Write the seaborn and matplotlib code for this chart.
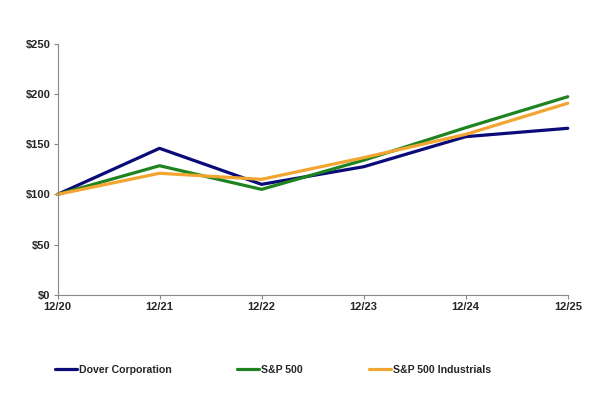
import matplotlib
matplotlib.use("Agg")
import matplotlib.pyplot as plt
import seaborn as sns
import pandas as pd
from matplotlib import font_manager
from matplotlib.lines import Line2D

years = ["12/20", "12/21", "12/22", "12/23", "12/24", "12/25"]
dover = [100, 145.8, 110, 127.5, 157.4, 165.7]
sp500 = [100, 128.5, 105, 134, 166.3, 197.1]
industrials = [100, 121, 115, 136.5, 159.7, 190.6]
series_names = ["Dover Corporation", "S&P 500", "S&P 500 Industrials"]
colors = ["#0a0a78", "#1f8420", "#f2a530"]
yticks = [0, 50, 100, 150, 200, 250]

df = pd.DataFrame({
    "x": list(range(len(years))) * 3,
    "value": dover + sp500 + industrials,
    "series": [series_names[0]] * 6 + [series_names[1]] * 6 + [series_names[2]] * 6,
})

sns.set_style("white")
plt.rcParams["font.family"] = ["Liberation Sans", "DejaVu Sans"]

names = {f.name for f in font_manager.fontManager.ttflist}
narrow = "Liberation Sans Narrow" if "Liberation Sans Narrow" in names else None

fig = plt.figure(figsize=(6.04, 3.98), dpi=100)
ax = fig.add_axes([0.0952, 0.2588, 0.8448, 0.6319])

sns.lineplot(data=df, x="x", y="value", hue="series", palette=colors,
             hue_order=series_names, linewidth=2.3, ax=ax, legend=False)

ax.set_xlim(0, 5)
ax.set_ylim(0, 250)
ax.set_xticks(range(len(years)))
ax.set_xticklabels(years, fontsize=8, fontweight="bold")
ax.set_yticks(yticks)
ax.set_yticklabels([f"${v}" for v in yticks], fontsize=8, fontweight="bold")
ax.set_xlabel("")
ax.set_ylabel("")
for s in ["top", "right"]:
    ax.spines[s].set_visible(False)
for s in ["left", "bottom"]:
    ax.spines[s].set_color("#888888")
    ax.spines[s].set_linewidth(0.8)
ax.tick_params(axis="both", which="both", length=3, width=0.8, color="#888888",
               direction="out", pad=2, left=True, bottom=True)
for line in ax.lines:
    line.set_clip_on(False)

handles = [Line2D([], [], color=c, linewidth=2.3) for c in colors]
if narrow:
    prop = {"size": 9, "weight": "bold", "family": narrow}
    fsz = 9
else:
    prop = {"size": 7.6, "weight": "bold"}
    fsz = 7.6
fpx = fsz * 100 / 72
fig.legend(handles, series_names, loc="center", bbox_to_anchor=(0.452, 0.07),
           ncol=3, frameon=False, handlelength=22 / fpx, handletextpad=2 / fpx,
           columnspacing=66 / fpx, prop=prop)

fig.savefig("out.png", dpi=100)
